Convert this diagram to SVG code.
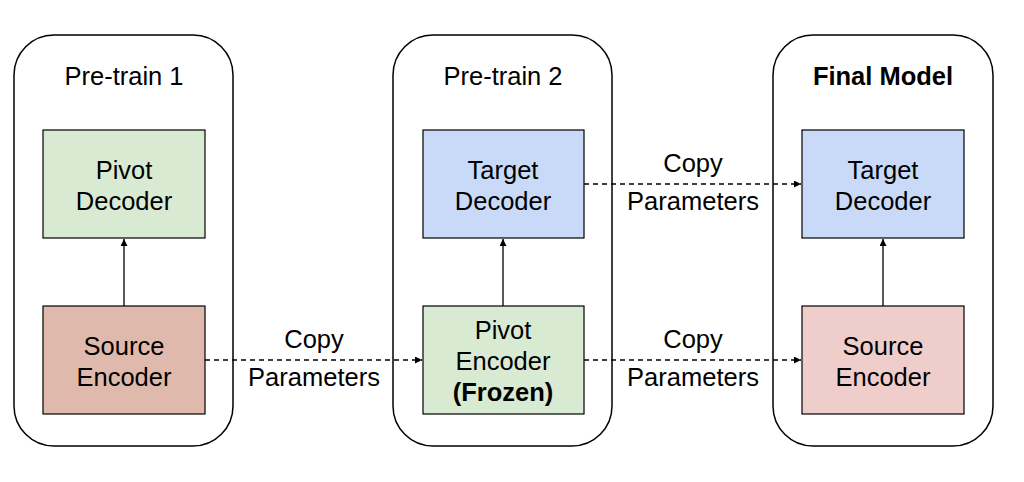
<svg xmlns="http://www.w3.org/2000/svg" width="1024" height="482" viewBox="0 0 1024 482">
<style>
.outer{fill:#fff;stroke:#000;stroke-width:1.5}
.box{stroke:#000;stroke-width:1.2}
.t{font-family:"Liberation Sans",Arial,sans-serif;font-size:25.5px;fill:#000;text-anchor:middle}
.b{font-weight:bold}
.solid{stroke:#000;stroke-width:1.3;fill:none}
.dash{stroke:#000;stroke-width:1.3;fill:none;stroke-dasharray:5,4}
</style>
<defs>
<marker id="ah" viewBox="0 0 10 10" refX="10" refY="5" markerWidth="7" markerHeight="7" markerUnits="userSpaceOnUse" orient="auto">
<path d="M0,0 L10,5 L0,10 z" fill="#000"/>
</marker>
</defs>
<rect width="1024" height="482" fill="#fff"/>
<g id="panel1">
<rect class="outer" x="14" y="35" width="219" height="411" rx="40" ry="40"/>
<text class="t" x="124" y="85">Pre-train 1</text>
</g>
<g id="panel2">
<rect class="outer" x="393" y="35" width="219" height="411" rx="40" ry="40"/>
<text class="t" x="503" y="85">Pre-train 2</text>
</g>
<g id="panel3">
<rect class="outer" x="773" y="35" width="220" height="411" rx="40" ry="40"/>
<text class="t b" x="883" y="85">Final Model</text>
</g>
<g id="pivot-decoder">
<rect class="box" x="43" y="130" width="162" height="108" fill="#d9ead3"/>
<text class="t" x="124" y="179">Pivot</text>
<text class="t" x="124" y="210">Decoder</text>
</g>
<g id="source-encoder-1">
<rect class="box" x="43" y="306" width="162" height="108" fill="#e0b9ad"/>
<text class="t" x="124" y="355">Source</text>
<text class="t" x="124" y="386">Encoder</text>
</g>
<g id="target-decoder-2">
<rect class="box" x="423" y="130" width="161" height="108" fill="#c9daf8"/>
<text class="t" x="503" y="179">Target</text>
<text class="t" x="503" y="210">Decoder</text>
</g>
<g id="pivot-encoder">
<rect class="box" x="423" y="306" width="161" height="108" fill="#d9ead3"/>
<text class="t" x="503" y="339">Pivot</text>
<text class="t" x="503" y="370">Encoder</text>
<text class="t b" x="503" y="401">(Frozen)</text>
</g>
<g id="target-decoder-3">
<rect class="box" x="802" y="130" width="162" height="108" fill="#c9daf8"/>
<text class="t" x="883" y="179">Target</text>
<text class="t" x="883" y="210">Decoder</text>
</g>
<g id="source-encoder-3">
<rect class="box" x="802" y="306" width="162" height="108" fill="#efcdcb"/>
<text class="t" x="883" y="355">Source</text>
<text class="t" x="883" y="386">Encoder</text>
</g>
<g id="connectors">
<line class="solid" x1="124" y1="306" x2="124" y2="239" marker-end="url(#ah)"/>
<line class="solid" x1="503" y1="306" x2="503" y2="239" marker-end="url(#ah)"/>
<line class="solid" x1="883" y1="306" x2="883" y2="239" marker-end="url(#ah)"/>
<line class="dash" x1="205" y1="360" x2="422" y2="360" marker-end="url(#ah)"/>
<line class="dash" x1="584" y1="360" x2="801" y2="360" marker-end="url(#ah)"/>
<line class="dash" x1="584" y1="184" x2="801" y2="184" marker-end="url(#ah)"/>
<text class="t" x="314" y="348">Copy</text>
<text class="t" x="314" y="386">Parameters</text>
<text class="t" x="693" y="348">Copy</text>
<text class="t" x="693" y="386">Parameters</text>
<text class="t" x="693" y="172">Copy</text>
<text class="t" x="693" y="210">Parameters</text>
</g>
</svg>
